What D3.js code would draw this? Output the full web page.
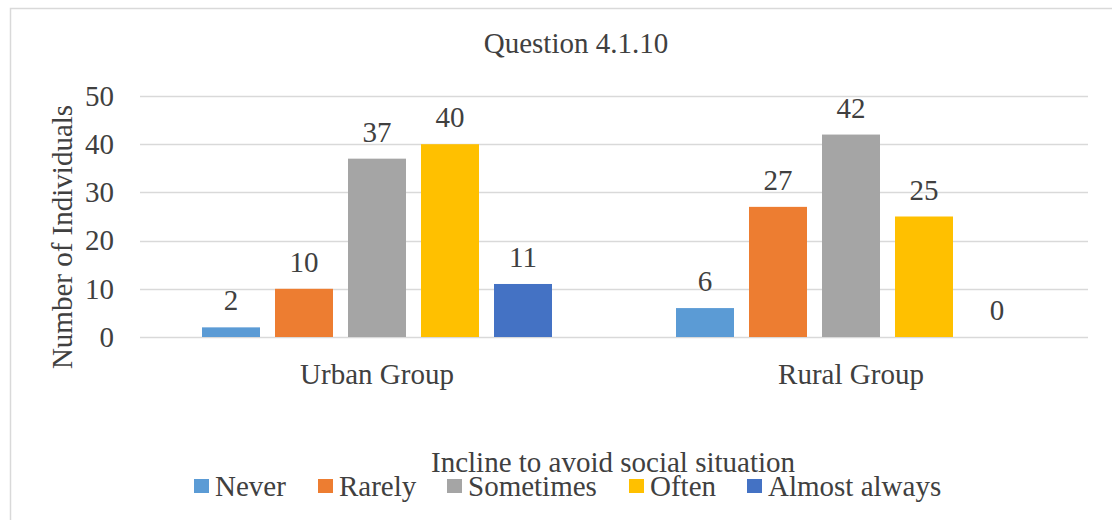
<!DOCTYPE html>
<html>
<head>
<meta charset="utf-8">
<script src="https://cdn.jsdelivr.net/npm/d3@7"></script>
<style>
  html, body { margin: 0; padding: 0; background: #ffffff; }
  svg { display: block; }
</style>
</head>
<body>
<svg id="chart" width="1112" height="520"></svg>
<script>
// Responses per group for each answer option
const groups = ["Urban Group", "Rural Group"];
const options = ["Never", "Rarely", "Sometimes", "Often", "Almost always"];
const urbanValues = [2, 10, 37, 40, 11];
const ruralValues = [6, 27, 42, 25, 0];
const yTicks = [0, 10, 20, 30, 40, 50];
const optionColors = ["#5B9BD5", "#ED7D31", "#A5A5A5", "#FFC000", "#4472C4"];

const chartTitle = "Question 4.1.10";
const yTitle = "Number of Individuals";
const legendTitle = "Incline to avoid social situation";

const seriesByGroup = [urbanValues, ruralValues];

const W = 1112, H = 520;
const plot = { left: 140, right: 1088, top: 96, bottom: 337 };
const fontSize = 29;
const textColor = "#404040";
const fontFamily = "'Liberation Serif'";

// shared text styling, applied inline on every label
function styleText(sel) {
  return sel
    .style("font-family", fontFamily)
    .style("font-size", fontSize + "px")
    .style("fill", textColor);
}

const svg = d3.select("#chart");

// Chart frame
svg.append("rect")
  .attr("x", 10.5).attr("y", 8.5)
  .attr("width", W + 10).attr("height", H + 10)
  .attr("fill", "#ffffff")
  .attr("stroke", "#D9D9D9").attr("stroke-width", 1.5);

const y = d3.scaleLinear().domain([0, 50]).range([plot.bottom, plot.top]);
const x0 = d3.scaleBand().domain(groups).range([plot.left, plot.right]).paddingInner(0).paddingOuter(0);
// bars fill the middle of each category slot, with small gaps between them
const clusterWidth = 350;
const innerOffset = (x0.bandwidth() - clusterWidth) / 2;
const x1 = d3.scaleBand().domain(options)
  .range([innerOffset, innerOffset + clusterWidth])
  .paddingInner(15 / 73)
  .paddingOuter(0);

// Gridlines
svg.append("g")
  .selectAll("line")
  .data(yTicks)
  .join("line")
  .attr("x1", plot.left).attr("x2", plot.right)
  .attr("y1", d => Math.round(y(d)) + 0.5).attr("y2", d => Math.round(y(d)) + 0.5)
  .attr("stroke", "#D9D9D9").attr("stroke-width", 1.5);

// Y tick labels
svg.append("g")
  .selectAll("text")
  .data(yTicks)
  .join("text")
  .attr("x", 114)
  .attr("y", d => y(d))
  .attr("dy", "0.34em")
  .attr("text-anchor", "end")
  .call(styleText)
  .text(d => d);

// Bars and value labels
const gGroups = svg.append("g")
  .selectAll("g")
  .data(groups)
  .join("g")
  .attr("transform", d => `translate(${x0(d)},0)`);

gGroups.selectAll("rect")
  .data((g, gi) => options.map((o, i) => ({ option: o, value: seriesByGroup[gi][i], color: optionColors[i] })))
  .join("rect")
  .attr("x", d => x1(d.option))
  .attr("width", x1.bandwidth())
  .attr("y", d => y(d.value))
  .attr("height", d => y(0) - y(d.value))
  .attr("fill", d => d.color);

gGroups.selectAll("text")
  .data((g, gi) => options.map((o, i) => ({ option: o, value: seriesByGroup[gi][i] })))
  .join("text")
  .attr("x", d => x1(d.option) + x1.bandwidth() / 2)
  .attr("y", d => y(d.value) - 17)
  .attr("text-anchor", "middle")
  .call(styleText)
  .text(d => d.value);

// Category labels
svg.append("g")
  .selectAll("text")
  .data(groups)
  .join("text")
  .attr("x", d => x0(d) + x0.bandwidth() / 2)
  .attr("y", 384)
  .attr("text-anchor", "middle")
  .call(styleText)
  .text(d => d);

// Title
svg.append("text")
  .attr("x", 576).attr("y", 53)
  .attr("text-anchor", "middle")
  .call(styleText)
  .text(chartTitle);

// Y axis title
svg.append("text")
  .attr("transform", "translate(72,237) rotate(-90)")
  .attr("text-anchor", "middle")
  .call(styleText)
  .text(yTitle);

// Legend title
svg.append("text")
  .attr("x", 613).attr("y", 472)
  .attr("text-anchor", "middle")
  .call(styleText)
  .text(legendTitle);

// Legend entries
const legendX = [194, 318, 447, 629, 747];
const legend = svg.append("g")
  .selectAll("g")
  .data(options)
  .join("g")
  .attr("transform", (d, i) => `translate(${legendX[i]},0)`);

legend.append("rect")
  .attr("x", 0).attr("y", 479)
  .attr("width", 15).attr("height", 14)
  .attr("fill", (d, i) => optionColors[i]);

legend.append("text")
  .attr("x", 21).attr("y", 496)
  .call(styleText)
  .text(d => d);
</script>
</body>
</html>
